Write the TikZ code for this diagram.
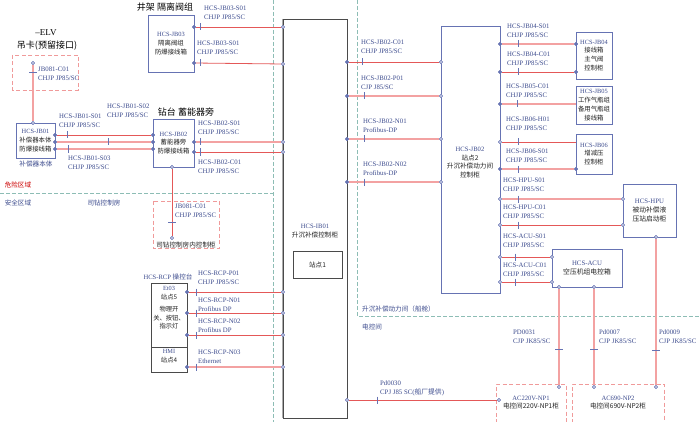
\documentclass[tikz,border=0pt]{standalone}
\usepackage{fontspec}
\setmainfont{Liberation Serif}
\newfontfamily\cjk{Noto Sans CJK SC}
\definecolor{tb}{HTML}{3D4C8E}
\definecolor{bb}{HTML}{6673B3}
\definecolor{rl}{HTML}{E45858}
\definecolor{pl}{HTML}{F3A2A2}
\definecolor{pk}{HTML}{F09A9A}
\definecolor{tl}{HTML}{8DBDB5}
\definecolor{gy}{HTML}{4A4A4A}
\definecolor{tx}{HTML}{222222}
\newcommand\vtk[2]{\draw[tk] (#1,#2-3.5) -- (#1,#2+3.5);}
\newcommand\htk[2]{\draw[tk] (#1-4,#2) -- (#1+4,#2);}
\tikzset{
  lbl/.style={font=\fontsize{6.8}{8.6}\selectfont, text=tb, align=left, inner sep=0pt, anchor=west},
  txt/.style={font=\fontsize{6.6}{8.8}\selectfont, text=tx, align=center, inner sep=0pt},
  btxt/.style={font=\fontsize{6.3}{8.8}\selectfont, text=tx, align=center, inner sep=0pt},
  ttl/.style={font=\fontsize{9}{11}\selectfont, text=black, align=center, inner sep=0pt},
  box/.style={draw=bb, line width=0.9pt, fill=white, inner sep=0pt, align=center, text=tx, font=\fontsize{6.4}{8.8}\selectfont},
  gbox/.style={draw=gy, line width=0.9pt, fill=white, inner sep=0pt, align=center, text=tx, font=\fontsize{6.6}{8.8}\selectfont},
  port/.style={circle, draw=bb, fill=white, inner sep=0pt, minimum size=3pt, line width=0.6pt},
  dot/.style={circle, draw=bb, fill=bb, inner sep=0pt, minimum size=3pt},
  redline/.style={draw=rl, line width=0.8pt},
  pinkline/.style={draw=pl, line width=1.6pt},
  vline/.style={draw=pl, line width=1.3pt},
  tk/.style={draw=bb, line width=0.6pt},
  zone/.style={draw=tl, line width=1pt, dash pattern=on 4pt off 2pt},
  pdash/.style={draw=pk, line width=0.9pt, dash pattern=on 4pt off 2.5pt},
}
\begin{document}
\begin{tikzpicture}[x=1pt,y=-1pt]
\useasboundingbox (0,0) rectangle (700,422);
\fill[white] (0,0) rectangle (700,422);

% ---------- zones ----------
\draw[zone] (273,0) -- (273,422);
\draw[zone] (0,193) -- (273,193);
\draw[zone] (357,0) -- (357,316) -- (700,316);
\node[txt, text=red!80!black] (zdanger) at (18,185) {{\cjk 危险区域}};
\node[txt, text=tb] (zsafe) at (18,203) {{\cjk 安全区域}};
\node[txt, text=tb] (zdrill) at (104,203) {{\cjk 司钻控制房}};
\node[txt, text=tb, anchor=west] (zpower) at (362,309) {{\cjk 升沉补偿动力间（船舱）}};
\node[txt, text=tb, anchor=west] (zecr) at (362,327) {{\cjk 电控间}};

% ---------- dashed pink boxes ----------
\draw[pdash] (12,55) rectangle (78,90);
\draw[pdash] (153,201) rectangle (219,248);
\draw[pdash] (496,423) -- (496,384) -- (566,384) -- (566,423);
\draw[pdash] (572,423) -- (572,384) -- (664,384) -- (664,423);

% ---------- central panel ----------
\node[gbox, minimum width=64pt, minimum height=399pt] (ib01) at (315,218.5) {};
\draw[draw=gray!65, line width=1.8pt] (ib01.north west) -- (ib01.south west);
\node[txt] (ib01t) at (315,231) {\textcolor{tb}{HCS-IB01}\\{\cjk 升沉补偿控制柜}};
\node[gbox, line width=0.8pt, minimum width=49pt, minimum height=27pt] (zd1) at (317.5,264.5) {{\cjk 站点1}};

% ---------- titles ----------
\node[ttl] (elv) at (46,33) {–ELV};
\node[ttl] (elv2) at (47,46) {{\cjk 吊卡(预留接口)}};
\node[ttl] (t03) at (165,7) {{\cjk 井架 隔离阀组}};
\node[ttl] (t02) at (186,112) {{\cjk 钻台 蓄能器旁}};

% ---------- left boxes ----------
\node[box, minimum width=46pt, minimum height=57pt] (jb03) at (171,43.5) {\textcolor{tb}{HCS-JB03}\\{\cjk 隔离阀组}\\{\cjk 防爆接线箱}};
\node[box, minimum width=39pt, minimum height=35pt] (jb01) at (35.5,140.5) {\textcolor{tb}{HCS-JB01}\\{\cjk 补偿器本体}\\{\cjk 防爆接线箱}};
\node[txt, text=tb] (jb01n) at (36,164) {{\cjk 补偿器本体}};
\node[box, minimum width=41pt, minimum height=48pt] (jb02) at (173.5,143) {\textcolor{tb}{HCS-JB02}\\{\cjk 蓄能器旁}\\{\cjk 防爆接线箱}};
\node[txt] (dctl) at (186,244.5) {{\cjk 司钻控制房内控制柜}};

% RCP
\node[gbox, minimum width=36pt, minimum height=64pt] (rcp) at (169,315) {};
\node[gbox, minimum width=36pt, minimum height=25pt] (hmi) at (169,359.5) {};
\node[btxt] (rcpt) at (169,308) {\textcolor{tb}{Et03}\\{\cjk 站点5}\\[3pt]{\cjk 物理开}\\{\cjk 关、按钮、}\\{\cjk 指示灯}};
\node[btxt] (hmit) at (169,356.5) {\textcolor{tb}{HMI}\\{\cjk 站点4}};
\node[txt, text=tb] (rcpn) at (168,277) {HCS-RCP {\cjk 操控台}};

% ---------- right boxes ----------
\node[box, minimum width=59pt, minimum height=267pt] (st2) at (470.5,159.5) {};
\node[txt] (st2t) at (470,162.5) {\textcolor{tb}{HCS-JB02}\\{\cjk 站点2}\\{\cjk 升沉补偿动力间}\\{\cjk 控制柜}};
\node[box, minimum width=36pt, minimum height=47pt] (jb04) at (594,55.5) {\textcolor{tb}{HCS-JB04}\\{\cjk 接线箱}\\{\cjk 主气阀}\\{\cjk 控制柜}};
\node[box, minimum width=36pt, minimum height=38pt] (jb05) at (594,105) {\textcolor{tb}{HCS-JB05}\\{\cjk 工作气瓶组}\\{\cjk 备用气瓶组}\\{\cjk 接线箱}};
\node[box, minimum width=36pt, minimum height=40pt] (jb06) at (594,154) {\textcolor{tb}{HCS-JB06}\\{\cjk 增减压}\\{\cjk 控制柜}};
\node[box, minimum width=53pt, minimum height=53pt, font=\fontsize{6.8}{8.8}\selectfont] (hpu) at (649.5,210.5) {\textcolor{tb}{HCS-HPU}\\{\cjk 被动补偿液}\\{\cjk 压站启动柜}};
\node[box, minimum width=70pt, minimum height=38pt, font=\fontsize{6.8}{8.8}\selectfont] (acu) at (587,268) {\textcolor{tb}{HCS-ACU}\\{\cjk 空压机组电控箱}};
\node[txt] (np1) at (531,402.5) {\textcolor{tb}{AC220V-NP1}\\{\cjk 电控间220V-NP1柜}};
\node[txt] (np2) at (618,402.5) {\textcolor{tb}{AC690-NP2}\\{\cjk 电控间690V-NP2柜}};

% ---------- ports ----------
\node[port] (elvp) at (33,63) {};
\node[port] (jb01t) at (33,123) {};
\node[dot] (jb01a) at (55,135) {};
\node[dot] (jb01b) at (55,142) {};
\node[dot] (jb01c) at (55,149) {};
\node[dot] (jb02a) at (153,135) {};
\node[dot] (jb02b) at (153,142) {};
\node[dot] (jb02c) at (153,149) {};
\node[dot] (jb02r1) at (194,142) {};
\node[dot] (jb02r2) at (194,152) {};
\node[port] (jb02bt) at (172,167) {};
\node[port] (dctlp) at (172,238) {};
\node[dot] (jb03a) at (194,27) {};
\node[dot] (jb03b) at (194,63) {};
\node[port] (ibl1) at (283,27) {};
\node[port] (ibl2) at (283,64) {};
\node[port] (ibl3) at (283,142) {};
\node[port] (ibl4) at (283,152) {};
\node[port] (ibl5) at (283,292) {};
\node[port] (ibl6) at (283,313) {};
\node[port] (ibl7) at (283,335) {};
\node[port] (ibl8) at (283,367) {};
\node[dot] (rcp1) at (187,292) {};
\node[dot] (rcp2) at (187,313) {};
\node[dot] (rcp3) at (187,335) {};
\node[dot] (hmi1) at (187,367) {};
\node[dot] (ibr1) at (347,62) {};
\node[dot] (ibr2) at (347,96) {};
\node[dot] (ibr3) at (347,139) {};
\node[dot] (ibr4) at (347,182) {};
\node[port] (ibr5) at (347,400) {};
\node[port] (s2l1) at (441,62) {};
\node[port] (s2l2) at (441,96) {};
\node[port] (s2l3) at (441,139) {};
\node[port] (s2l4) at (441,182) {};
\node[dot] (s2r1) at (500,44) {};
\node[dot] (s2r2) at (500,72) {};
\node[dot] (s2r3) at (500,104) {};
\node[port] (s2r4) at (500,142) {};
\node[dot] (s2r5) at (500,169) {};
\node[port] (s2r6) at (500,199) {};
\node[port] (s2r7) at (500,225) {};
\node[port] (s2r8) at (500,257) {};
\node[port] (s2r9) at (500,282) {};
\node[dot] (jb04a) at (576,44) {};
\node[dot] (jb04b) at (576,72) {};
\node[coordinate] (jb05a) at (576,104) {};
\node[coordinate] (jb06a) at (576,142) {};
\node[dot] (jb06b) at (576,169) {};
\node[port] (hpua) at (623,199) {};
\node[port] (hpub) at (623,225) {};
\node[port] (hpud) at (656,237) {};
\node[port] (acua) at (552,257) {};
\node[port] (acub) at (552,282) {};
\node[port] (acud1) at (559,287) {};
\node[port] (acud2) at (594,287) {};
\node[port] (np1a) at (559,387) {};
\node[port] (np2a) at (594,387) {};
\node[port] (np2b) at (656,387) {};
\node[port] (np1l) at (499,400) {};

% ---------- connectors ----------
\draw[vline] (elvp) -- (jb01t);
\draw[redline] (jb01a) -- (jb02a);
\draw[pinkline] (jb01b) -- (jb02b);
\draw[pinkline] (jb01c) -- (jb02c);
\draw[pinkline] (jb02r1) -- (ibl3);
\draw[redline] (jb02r2) -- (ibl4);
\draw[redline] (jb02bt) -- (dctlp);
\draw[redline] (jb03a) -- (ibl1);
\draw[redline] (jb03b) -- (ibl2);
\draw[redline] (rcp1) -- (ibl5);
\draw[redline] (rcp2) -- (ibl6);
\draw[redline] (rcp3) -- (ibl7);
\draw[pinkline] (hmi1) -- (ibl8);
\draw[redline] (ibr1) -- (s2l1);
\draw[pinkline] (ibr2) -- (s2l2);
\draw[pinkline] (ibr3) -- (s2l3);
\draw[pinkline] (ibr4) -- (s2l4);
\draw[redline] (ibr5) -- (np1l);
\draw[pinkline] (s2r1) -- (jb04a);
\draw[redline] (s2r2) -- (jb04b);
\draw[pinkline] (s2r3) -- (jb05a);
\draw[redline] (s2r4) -- (jb06a);
\draw[pinkline] (s2r5) -- (jb06b);
\draw[pinkline] (s2r6) -- (hpua);
\draw[redline] (s2r7) -- (hpub);
\draw[redline] (s2r8) -- (acua);
\draw[redline] (s2r9) -- (acub);
\draw[vline] (acud1) -- (np1a);
\draw[vline] (acud2) -- (np2a);
\draw[vline] (hpud) -- (np2b);

% redraw ports over the lines
\foreach \p in {elvp,jb01t,jb02bt,dctlp,ibl1,ibl2,ibl3,ibl4,ibl5,ibl6,ibl7,ibl8,ibr5,s2l1,s2l2,s2l3,s2l4,s2r4,s2r6,s2r7,s2r8,s2r9,hpua,hpub,hpud,acua,acub,acud1,acud2,np1a,np2a,np2b,np1l}
  {\node[port] at (\p) {};}
\foreach \p in {jb01a,jb01b,jb01c,jb02a,jb02b,jb02c,jb02r1,jb02r2,jb03a,jb03b,rcp1,rcp2,rcp3,hmi1,ibr1,ibr2,ibr3,ibr4,s2r1,s2r2,s2r3,s2r5,jb04a,jb04b,jb06b}
  {\node[dot] at (\p) {};}

% ---------- ticks ----------
\htk{33}{72}
\vtk{67}{135} \vtk{108}{142} \vtk{68}{149}
\vtk{200}{142} \vtk{200}{152}
\htk{172}{222}
\vtk{200}{27} \vtk{200}{63}
\vtk{196}{292} \vtk{196}{313} \vtk{196}{335} \vtk{196}{367}
\vtk{362}{62} \vtk{364}{96} \vtk{364}{139} \vtk{364}{182}
\vtk{377}{400}
\vtk{518}{44} \vtk{518}{72} \vtk{517}{104} \vtk{518}{142} \vtk{518}{169}
\vtk{518}{199} \vtk{518}{225} \vtk{515}{257} \vtk{515}{282}
\htk{559}{349} \htk{594}{349} \htk{656}{350}

% ---------- labels ----------
\node[lbl] (l1) at (38,74) {JB081-C01\\CHJP JP85/SC};
\node[lbl] (l2) at (59,121) {HCS-JB01-S01\\CHJP JP85/SC};
\node[lbl] (l3) at (107,111) {HCS-JB01-S02\\CHJP JP85/SC};
\node[lbl] (l4) at (68,162.5) {HCS-JB01-S03\\CHJP JP85/SC};
\node[lbl] (l5) at (198,128) {HCS-JB02-S01\\CHJP JP85/SC};
\node[lbl] (l6) at (198,166.5) {HCS-JB02-C01\\CHJP JP85/SC};
\node[lbl] (l7) at (175,211) {JB081-C01\\CHJP JP85/SC};
\node[lbl] (l8) at (204,12.5) {HCS-JB03-S01\\CHJP JP85/SC};
\node[lbl] (l9) at (197,47.5) {HCS-JB03-S01\\CHJP JP85/SC};
\node[lbl] (l10) at (198,277.5) {HCS-RCP-P01\\CHJP JP85/SC};
\node[lbl] (l11) at (198,304.5) {HCS-RCP-N01\\Profibus DP};
\node[lbl] (l12) at (198,325.5) {HCS-RCP-N02\\Profibus DP};
\node[lbl] (l13) at (198,356.5) {HCS-RCP-N03\\Ethernet};
\node[lbl] (l14) at (361,46.5) {HCS-JB02-C01\\CHJP JP85/SC};
\node[lbl] (l15) at (361,83) {HCS-JB02-P01\\CJP J85/SC};
\node[lbl] (l16) at (363,125.5) {HCS-JB02-N01\\Profibus-DP};
\node[lbl] (l17) at (363,168.5) {HCS-JB02-N02\\Profibus-DP};
\node[lbl] (l18) at (380,388.5) {Pd0030\\CPJ J85 SC({\cjk 船厂提供})};
\node[lbl] (l19) at (507,31) {HCS-JB04-S01\\CHJP JP85/SC};
\node[lbl] (l20) at (507,59) {HCS-JB04-C01\\CHJP JP85/SC};
\node[lbl] (l21) at (506,91) {HCS-JB05-C01\\CHJP JP85/SC};
\node[lbl] (l22) at (506,123.5) {HCS-JB06-H01\\CHJP JP85/SC};
\node[lbl] (l23) at (506,155.5) {HCS-JB06-S01\\CHJP JP85/SC};
\node[lbl] (l24) at (503,184.5) {HCS-HPU-S01\\CHJP JP85/SC};
\node[lbl] (l25) at (503,211.5) {HCS-HPU-C01\\CHJP JP85/SC};
\node[lbl] (l26) at (503,240.5) {HCS-ACU-S01\\CHJP JP85/SC};
\node[lbl] (l27) at (503,270) {HCS-ACU-C01\\CHJP JP85/SC};
\node[lbl] (l28) at (513,336.5) {PD0031\\CJP JK85/SC};
\node[lbl] (l29) at (599,336.5) {Pd0007\\CJP JK85/SC};
\node[lbl] (l30) at (659,336.5) {Pd0009\\CJP JK85/SC};
\end{tikzpicture}
\end{document}
